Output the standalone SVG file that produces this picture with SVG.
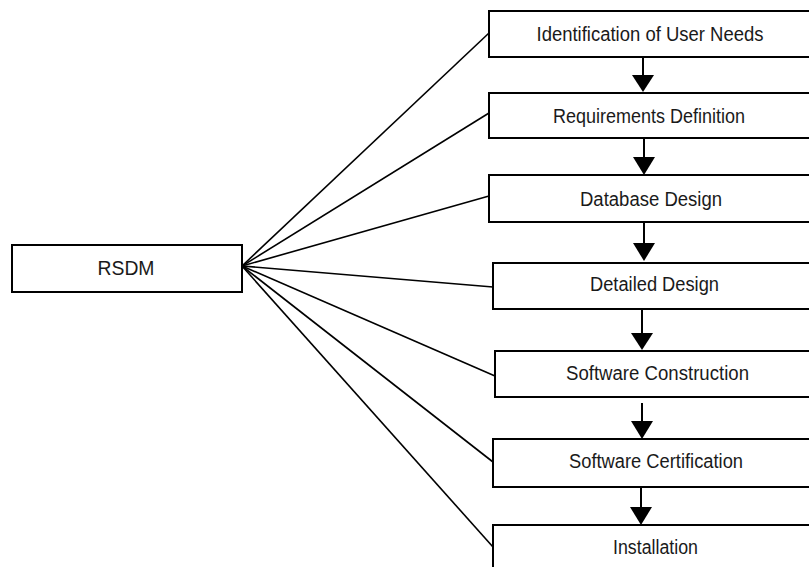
<svg xmlns="http://www.w3.org/2000/svg" width="809" height="567" viewBox="0 0 809 567">
<defs>
<style>
.box{fill:#fff;stroke:#000;stroke-width:2}
.lbl{font-family:"Liberation Sans",Arial,sans-serif;font-size:20px;fill:#1a1a1a;text-anchor:middle}
.link{stroke:#000;stroke-width:1.6;fill:none}
.flow{stroke:#000;stroke-width:2;fill:none}
.head{fill:#000}
</style>
</defs>
<rect width="809" height="567" fill="#fff"/>
<g id="connectors">
<line class="link" x1="242" y1="266" x2="489" y2="33"/>
<line class="link" x1="242" y1="266" x2="489" y2="113"/>
<line class="link" x1="242" y1="266" x2="489" y2="196"/>
<line class="link" x1="242" y1="266" x2="493" y2="287"/>
<line class="link" x1="242" y1="266" x2="495" y2="376"/>
<line class="link" x1="242" y1="266" x2="493" y2="462"/>
<line class="link" x1="242" y1="266" x2="493" y2="547"/>
<path d="M643,57 L643,75" class="flow"/>
<polygon class="head" points="632,75 654,75 643,92"/>
<path d="M644,138 L644,157" class="flow"/>
<polygon class="head" points="633,157 655,157 644,175"/>
<path d="M644,222 L644,243" class="flow"/>
<polygon class="head" points="633,243 655,243 644,261"/>
<path d="M642,310 L642,333" class="flow"/>
<polygon class="head" points="631,333 653,333 642,350"/>
<path d="M642,403 L642,421" class="flow"/>
<polygon class="head" points="631,421 653,421 642,439"/>
<path d="M641,487 L641,507" class="flow"/>
<polygon class="head" points="630,507 652,507 641,525"/>
</g>
<g id="rsdm">
<rect class="box" x="12" y="245" width="230" height="47"/>
<text class="lbl" x="126" y="275" textLength="57" lengthAdjust="spacingAndGlyphs">RSDM</text>
</g>
<g id="n1">
<rect class="box" x="489" y="11" width="330" height="46"/>
<text class="lbl" x="650" y="41" textLength="227" lengthAdjust="spacingAndGlyphs">Identification of User Needs</text>
</g>
<g id="n2">
<rect class="box" x="489" y="93" width="330" height="45"/>
<text class="lbl" x="649" y="123" textLength="192" lengthAdjust="spacingAndGlyphs">Requirements Definition</text>
</g>
<g id="n3">
<rect class="box" x="489" y="175" width="330" height="47"/>
<text class="lbl" x="651" y="206" textLength="142" lengthAdjust="spacingAndGlyphs">Database Design</text>
</g>
<g id="n4">
<rect class="box" x="493" y="263" width="330" height="46"/>
<text class="lbl" x="654.5" y="291" textLength="129" lengthAdjust="spacingAndGlyphs">Detailed Design</text>
</g>
<g id="n5">
<rect class="box" x="495" y="351" width="330" height="46"/>
<text class="lbl" x="657.5" y="380" textLength="183" lengthAdjust="spacingAndGlyphs">Software Construction</text>
</g>
<g id="n6">
<rect class="box" x="493" y="439" width="330" height="48"/>
<text class="lbl" x="656" y="468" textLength="174" lengthAdjust="spacingAndGlyphs">Software Certification</text>
</g>
<g id="n7">
<rect class="box" x="493" y="525" width="330" height="60"/>
<text class="lbl" x="655.5" y="554" textLength="85" lengthAdjust="spacingAndGlyphs">Installation</text>
</g>
</svg>
